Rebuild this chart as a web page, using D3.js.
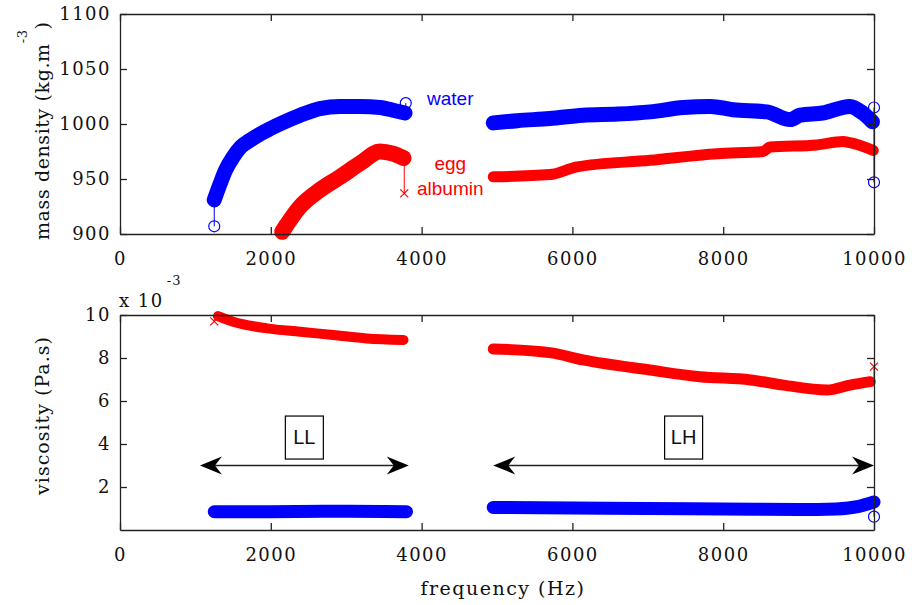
<!DOCTYPE html>
<html>
<head>
<meta charset="utf-8">
<script src="https://cdn.jsdelivr.net/npm/d3@7"></script>
<style>
  body { margin: 0; background: #fff; }
  svg { display: block; }
</style>
</head>
<body>
<div id="chart"></div>
<script>
// mass density, water (blue, 'o')
var freqWaterDens1 = [1250, 1330, 1400, 1500, 1600, 1720, 1860, 2000, 2120, 2390, 2650, 2920, 3180, 3450, 3650, 3780];
var waterDens1     = [931, 946, 958, 970, 979, 985, 991, 996, 1000, 1008, 1014, 1016, 1016, 1015, 1012, 1010];
var freqWaterDens2 = [4950, 5270, 5700, 6140, 6600, 7030, 7470, 7830, 8130, 8580, 8890, 9020, 9320, 9680, 9850, 9980];
var waterDens2     = [1001, 1003, 1005, 1008, 1009, 1011, 1015, 1016, 1013, 1011, 1004, 1008, 1010, 1016, 1010, 1002];

// mass density, egg albumin (red, 'x')
var freqEggDens1 = [2150, 2390, 2650, 2920, 3180, 3450, 3620, 3760];
var eggDens1     = [902, 925, 940, 952, 964, 975, 973, 969];
var freqEggDens2 = [4950, 5700, 6060, 7030, 7920, 8530, 8620, 9240, 9590, 9680, 9990];
var eggDens2     = [952, 954, 961, 967, 973, 975, 979, 981, 984, 983, 976];

// viscosity (x 10^-3 Pa.s)
var freqWaterVisc1 = [1250, 2000, 2700, 3500, 3800];
var waterVisc1     = [0.85, 0.85, 0.87, 0.86, 0.85];
var freqWaterVisc2 = [4950, 6000, 7000, 8000, 9000, 9500, 9800, 10000];
var waterVisc2     = [1.05, 1.02, 1.0, 0.98, 0.95, 0.98, 1.1, 1.3];
var freqEggVisc1 = [1300, 1500, 1950, 2390, 2830, 3270, 3760];
var eggVisc1     = [9.95, 9.69, 9.38, 9.22, 9.07, 8.91, 8.84];
var freqEggVisc2 = [4950, 5700, 6140, 7030, 7690, 8360, 8800, 9380, 9680, 9950];
var eggVisc2     = [8.42, 8.25, 7.91, 7.44, 7.13, 6.98, 6.74, 6.51, 6.74, 6.9];

// stray end points: [freq, value, value of the point it joins]
var waterDensStray = [[1250, 907, 931], [3790, 1019, 1012], [10000, 1015, 1002], [10000, 947, 1002]];
var eggDensStray   = [[3770, 937, 969]];
var waterViscStray = [[10000, 0.62, 1.3]];
var eggViscStray   = [[1250, 9.7, 9.95], [10000, 7.6, 6.9]];

var xTicks = [0, 2000, 4000, 6000, 8000, 10000];
var densTicks = [900, 950, 1000, 1050, 1100];
var viscTicks = [2, 4, 6, 8, 10];

// frequency ranges marked with arrows
var rangeNames = ["LL", "LH"];
var rangeFrom  = [1060, 4950];
var rangeTo    = [3830, 10000];

var w = 912, h = 605;
var left = 120, right = 874;
var blue = "#0000ff", red = "#ff0000";
var serif = "DejaVu Serif", sans = "Liberation Sans";

var svg = d3.select("#chart").append("svg")
  .attr("width", w)
  .attr("height", h);

var x = d3.scaleLinear().domain([0, 10000]).range([left, right]);
var yDens = d3.scaleLinear().domain([900, 1100]).range([234, 14]);
var yVisc = d3.scaleLinear().domain([0, 10]).range([530, 315]);

function zip(a, b) {
  return a.map(function(d, i){ return [d, b[i]]; });
}

function drawAxes(y, ticks, yTop, yBot) {
  var g = svg.append("g");
  g.append("g").attr("transform", "translate(0," + yBot + ")")
    .call(d3.axisBottom(x).tickValues(xTicks).tickFormat(d3.format("d"))
      .tickSizeInner(-7).tickSizeOuter(0).tickPadding(18));
  g.append("g").attr("transform", "translate(0," + yTop + ")")
    .call(d3.axisTop(x).tickValues(xTicks).tickSizeInner(-7).tickSizeOuter(0).tickFormat(""));
  g.append("g").attr("transform", "translate(" + left + ",0)")
    .call(d3.axisLeft(y).tickValues(ticks).tickFormat(d3.format("d"))
      .tickSizeInner(-7).tickSizeOuter(0).tickPadding(9));
  g.append("g").attr("transform", "translate(" + right + ",0)")
    .call(d3.axisRight(y).tickValues(ticks).tickSizeInner(-7).tickSizeOuter(0).tickFormat(""));
  g.selectAll("path.domain").attr("stroke", "#222").attr("stroke-width", 1.3);
  g.selectAll(".tick line").attr("stroke", "#222").attr("stroke-width", 1.3);
  g.selectAll(".tick text")
    .attr("font-family", serif)
    .attr("font-size", 18)
    .attr("letter-spacing", 1.5)
    .attr("fill", "#111");
  return g;
}

function band(pts, y, color, width) {
  var line = d3.line()
    .x(function(d){ return x(d[0]); })
    .y(function(d){ return y(d[1]); })
    .curve(d3.curveMonotoneX);
  svg.append("path")
    .attr("d", line(pts))
    .attr("fill", "none")
    .attr("stroke", color)
    .attr("stroke-width", width)
    .attr("stroke-linecap", "round")
    .attr("stroke-linejoin", "round");
}

function strays(list, y, color, shape) {
  list.forEach(function(s) {
    svg.append("line")
      .attr("x1", x(s[0])).attr("x2", x(s[0]))
      .attr("y1", y(s[1])).attr("y2", y(s[2]))
      .attr("stroke", color).attr("stroke-width", 1);
    if (shape == "o") {
      svg.append("circle")
        .attr("cx", x(s[0])).attr("cy", y(s[1])).attr("r", 5.5)
        .attr("fill", "none").attr("stroke", color).attr("stroke-width", 1.2);
    } else {
      var cx = x(s[0]), cy = y(s[1]), k = 4;
      svg.append("path")
        .attr("d", "M" + (cx - k) + "," + (cy - k) + "L" + (cx + k) + "," + (cy + k) +
                   "M" + (cx - k) + "," + (cy + k) + "L" + (cx + k) + "," + (cy - k))
        .attr("stroke", color).attr("stroke-width", 1.2);
    }
  });
}

// top: mass density
band(zip(freqWaterDens1, waterDens1), yDens, blue, 15);
band(zip(freqWaterDens2, waterDens2), yDens, blue, 15);
band(zip(freqEggDens1, eggDens1), yDens, red, 16);
band(zip(freqEggDens2, eggDens2), yDens, red, 11);
strays(waterDensStray, yDens, blue, "o");
strays(eggDensStray, yDens, red, "x");

// bottom: viscosity
band(zip(freqWaterVisc1, waterVisc1), yVisc, blue, 13);
band(zip(freqWaterVisc2, waterVisc2), yVisc, blue, 13);
band(zip(freqEggVisc1, eggVisc1), yVisc, red, 10);
band(zip(freqEggVisc2, eggVisc2), yVisc, red, 11);
strays(waterViscStray, yVisc, blue, "o");
strays(eggViscStray, yVisc, red, "x");

// axes box drawn over the data, as in the original
drawAxes(yDens, densTicks, 14, 234);
drawAxes(yVisc, viscTicks, 315, 530);

// series labels
svg.append("text").attr("x", x(4380)).attr("y", yDens(1017.3))
  .attr("text-anchor", "middle").attr("font-family", sans).attr("font-size", 19)
  .attr("fill", blue).text("water");
svg.append("text").attr("x", x(4380)).attr("y", yDens(958))
  .attr("text-anchor", "middle").attr("font-family", sans).attr("font-size", 19)
  .attr("fill", red).text("egg");
svg.append("text").attr("x", x(4380)).attr("y", yDens(935.5))
  .attr("text-anchor", "middle").attr("font-family", sans).attr("font-size", 19)
  .attr("fill", red).text("albumin");

// range arrows with boxed names
function head(tipX, tipY, dir) {
  var L = 22, H = 9, N = 15;
  return "M" + tipX + "," + tipY +
    "L" + (tipX + dir * L) + "," + (tipY - H) +
    "L" + (tipX + dir * N) + "," + tipY +
    "L" + (tipX + dir * L) + "," + (tipY + H) + "Z";
}
rangeNames.forEach(function(name, i) {
  var x1 = x(rangeFrom[i]), x2 = x(rangeTo[i]), ya = yVisc(3);
  svg.append("line").attr("x1", x1 + 10).attr("x2", x2 - 10)
    .attr("y1", ya).attr("y2", ya)
    .attr("stroke", "#222").attr("stroke-width", 1.6);
  svg.append("path").attr("d", head(x1, ya, 1)).attr("fill", "#000");
  svg.append("path").attr("d", head(x2, ya, -1)).attr("fill", "#000");
  var cx = (x1 + x2) / 2;
  var bx = cx - 19, by = yVisc(5.3);
  svg.append("rect").attr("x", bx).attr("y", by).attr("width", 38).attr("height", 43)
    .attr("fill", "#fff").attr("stroke", "#000").attr("stroke-width", 1.2);
  svg.append("text").attr("x", cx).attr("y", by + 28)
    .attr("text-anchor", "middle").attr("font-family", sans).attr("font-size", 20)
    .attr("fill", "#111").text(name);
});

// axis titles
var yl1 = svg.append("text")
  .attr("transform", "translate(49,240) rotate(-90)")
  .attr("font-family", serif).attr("font-size", 19).attr("letter-spacing", 0.6)
  .attr("fill", "#111");
yl1.append("tspan").text("mass density (kg.m");
yl1.append("tspan").attr("dy", -22).attr("font-size", 13).text("-3");
yl1.append("tspan").attr("dy", 22).text(")");

svg.append("text")
  .attr("transform", "translate(49," + ((315 + 530) / 2 - 7) + ") rotate(-90)")
  .attr("text-anchor", "middle")
  .attr("font-family", serif).attr("font-size", 19).attr("letter-spacing", 1)
  .attr("fill", "#111").text("viscosity (Pa.s)");

svg.append("text")
  .attr("x", (left + right) / 2 + 6).attr("y", 595)
  .attr("text-anchor", "middle")
  .attr("font-family", serif).attr("font-size", 19).attr("letter-spacing", 1.5)
  .attr("fill", "#111").text("frequency (Hz)");

var mult = svg.append("text").attr("x", 119).attr("y", 307)
  .attr("font-family", serif).attr("font-size", 18).attr("letter-spacing", 1.5)
  .attr("fill", "#111");
mult.append("tspan").text("x 10");
mult.append("tspan").attr("dx", 3).attr("dy", -22).attr("font-size", 13).attr("letter-spacing", 1).text("-3");
</script>
</body>
</html>
